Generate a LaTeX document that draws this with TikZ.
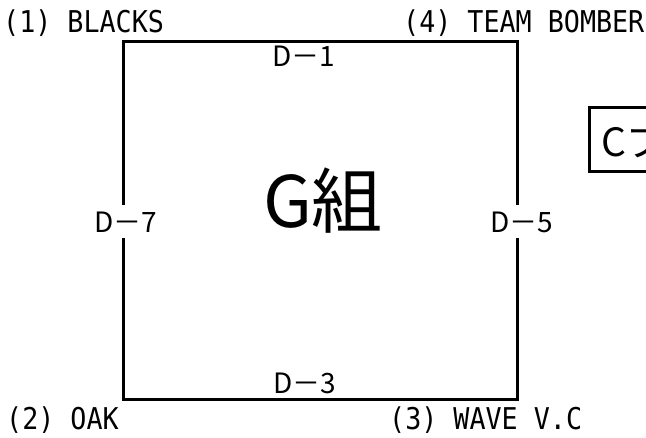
\documentclass[tikz,border=0pt]{standalone}
\usepackage{fontspec}
\newfontfamily\jp{Noto Sans CJK JP}
\newfontfamily\mono[FakeStretch=0.89]{DejaVu Sans Mono}
\begin{document}
\begin{tikzpicture}[x=1pt,y=-1pt,
  team/.style={font=\mono\fontsize{30}{30}\selectfont, inner sep=0pt, anchor=base west},
  match/.style={font=\jp\fontsize{28}{28}\selectfont, inner xsep=2pt, inner ysep=6pt, fill=white, anchor=base},
  frame/.style={line width=3pt},
  big/.style={font=\jp\fontsize{71}{71}\selectfont, inner sep=0pt, anchor=base}]
\useasboundingbox (0,0) rectangle (646,437);
\clip (0,0) rectangle (646,437);
\coordinate (tl) at (123,41);
\coordinate (br) at (517,399);
\draw[frame] (tl) rectangle (br);
\node[team] (t1) at (3,32) {(1) BLACKS};
\node[team] (t4) at (403,32) {(4) TEAM BOMBER};
\node[team] (t2) at (6,429) {(2) OAK};
\node[team] (t3) at (389,429) {(3) WAVE V.C};
\node[match, fill=none] (d1) at (304,66) {D－1};
\node[match, fill=none] (d3) at (305,393) {D－3};
\node[match] (d7) at (126,232) {D－7};
\node[match] (d5) at (522,232) {D－5};
\node[big] (g) at (323,227) {G組};
\node[draw, line width=3pt, anchor=north west, minimum height=64pt, minimum width=120pt, text depth=0pt,
  font=\jp\fontsize{39}{39}\selectfont, inner xsep=12pt, align=left] (c) at (588,106) {Cブロック};
\end{tikzpicture}
\end{document}
